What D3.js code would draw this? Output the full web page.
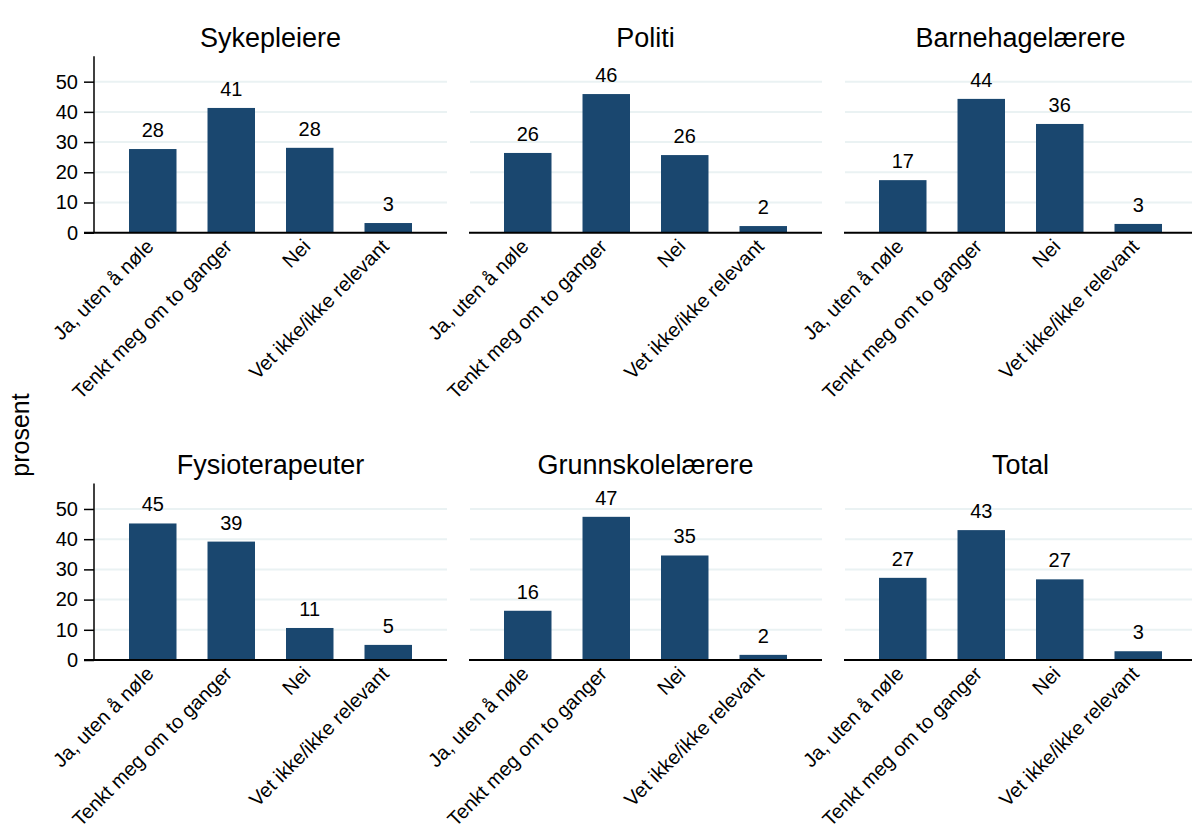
<!DOCTYPE html>
<html>
<head>
<meta charset="utf-8">
<script src="https://cdn.jsdelivr.net/npm/d3@7"></script>
<style>
  html, body { margin: 0; padding: 0; background: #fff; }
  svg { display: block; font-family: "Liberation Sans", Arial, sans-serif; }
</style>
</head>
<body>
<svg id="chart" width="1192" height="828"></svg>
<script>
// ---- data ----
const categories = ["Ja, uten å nøle", "Tenkt meg om to ganger", "Nei", "Vet ikke/ikke relevant"];
const groups = ["Sykepleiere", "Politi", "Barnehagelærere", "Fysioterapeuter", "Grunnskolelærere", "Total"];
const sykepleiere = [27.7, 41.3, 28.1, 3.2];
const politi = [26.4, 45.9, 25.7, 2.2];
const barnehagelaerere = [17.4, 44.3, 36.0, 2.9];
const fysioterapeuter = [45.2, 39.2, 10.6, 5.0];
const grunnskolelaerere = [16.3, 47.4, 34.6, 1.7];
const total = [27.2, 43.0, 26.7, 2.9];
const seriesValues = [sykepleiere, politi, barnehagelaerere, fysioterapeuter, grunnskolelaerere, total];
const yTicks = [0, 10, 20, 30, 40, 50];
const yLabel = "prosent";

// ---- layout ----
const svg = d3.select("#chart");
const panelLefts = [94, 469, 844];
const panelWidth = 353;
const rowBaselines = [232.7, 660];
const plotHeight = 176.4;
const yMax = 58.4;
const barColor = "#1a476f";
const gridColor = "#eaf2f3";
const smallFont = 20;

svg.append("text")
  .attr("transform", "translate(29,435) rotate(-90)")
  .attr("text-anchor", "middle")
  .attr("font-size", 25)
  .attr("fill", "#000")
  .text(yLabel);

groups.forEach((name, gi) => {
  const col = gi % 3, row = Math.floor(gi / 3);
  const x0 = panelLefts[col];
  const y0 = rowBaselines[row];
  const x = d3.scaleBand().domain(categories).range([x0, x0 + panelWidth])
    .paddingInner(0.395).paddingOuter(0.446);
  const y = d3.scaleLinear().domain([0, yMax]).range([y0, y0 - plotHeight]);
  const g = svg.append("g");
  const vals = seriesValues[gi];

  // gridlines
  g.selectAll("line.grid").data(yTicks.filter(t => t > 0)).join("line")
    .attr("x1", x0 + 1).attr("x2", x0 + panelWidth)
    .attr("y1", d => y(d)).attr("y2", d => y(d))
    .attr("stroke", gridColor).attr("stroke-width", 2);

  // bars
  g.selectAll("rect.bar").data(vals).join("rect")
    .attr("x", (d, i) => x(categories[i]))
    .attr("width", x.bandwidth())
    .attr("y", d => y(d))
    .attr("height", d => y0 - y(d))
    .attr("fill", barColor);

  // value labels
  g.selectAll("text.val").data(vals).join("text")
    .attr("x", (d, i) => x(categories[i]) + x.bandwidth() / 2)
    .attr("y", d => y(d) - 12)
    .attr("text-anchor", "middle")
    .attr("font-size", smallFont)
    .attr("fill", "#000")
    .text(d => d3.format(".0f")(d));

  // y axis (first column only)
  if (col === 0) {
    const ya = d3.axisLeft(y).tickValues(yTicks).tickSize(10).tickPadding(6);
    const ag = g.append("g").attr("transform", `translate(${x0},0)`).call(ya);
    ag.select(".domain").remove();
    ag.selectAll(".tick line").attr("stroke", "#000").attr("stroke-width", 1.5);
    ag.selectAll(".tick text").attr("font-size", smallFont).attr("fill", "#000")
      .attr("font-family", "Liberation Sans, Arial, sans-serif");
    g.append("line").attr("x1", x0).attr("x2", x0).attr("y1", y0).attr("y2", y0 - plotHeight)
      .attr("stroke", "#000").attr("stroke-width", 1.5);
  }

  // x axis
  const xa = d3.axisBottom(x).tickSize(0).tickPadding(0);
  const xg = g.append("g").attr("transform", `translate(0,${y0})`).call(xa);
  xg.select(".domain").remove();
  xg.selectAll(".tick text")
    .attr("font-size", smallFont).attr("fill", "#000")
    .attr("font-family", "Liberation Sans, Arial, sans-serif")
    .attr("text-anchor", "end")
    .attr("transform", "translate(2,15) rotate(-45)")
    .attr("dy", 0).attr("y", 0).attr("x", 0);
  g.append("line").attr("x1", col === 0 ? x0 - 10 : x0).attr("x2", x0 + panelWidth)
    .attr("y1", y0).attr("y2", y0).attr("stroke", "#000").attr("stroke-width", 2);

  // title
  svg.append("text")
    .attr("x", x0 + panelWidth / 2)
    .attr("y", row === 0 ? 47 : 474)
    .attr("text-anchor", "middle")
    .attr("font-size", 27)
    .attr("fill", "#000")
    .text(name);
});
</script>
</body>
</html>
